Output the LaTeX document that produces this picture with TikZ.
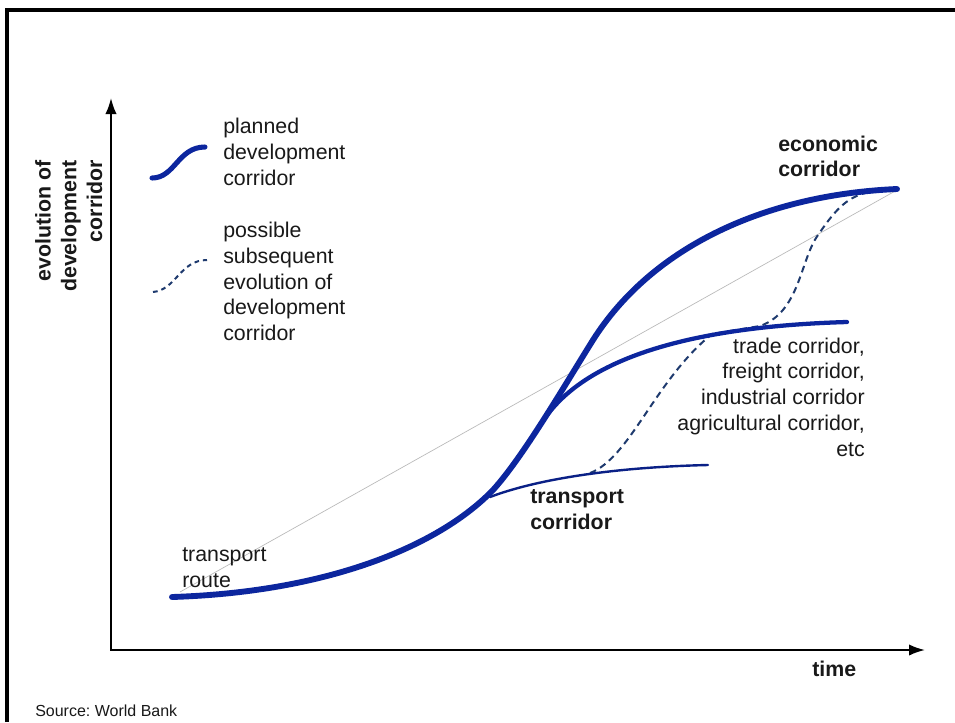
\documentclass[tikz,border=0pt]{standalone}
\usepackage{fontspec}
\setmainfont{Liberation Sans}
\usetikzlibrary{arrows.meta}
\definecolor{mainblue}{RGB}{12,38,158}
\definecolor{dashblue}{RGB}{30,58,110}
\frenchspacing
\begin{document}
\begin{tikzpicture}[x=0.75pt,y=-0.75pt,
  lbl/.style={font=\fontsize{16}{19.3}\selectfont, inner sep=0pt, align=left, text=black!90},
  blbl/.style={lbl, font=\fontsize{16}{19.3}\selectfont\bfseries},
  axisline/.style={line width=1.5pt, {Latex[length=12pt,width=8.5pt]}-{Latex[length=12pt,width=8.5pt]}},
  frameline/.style={line width=2.4pt},
  maincurve/.style={mainblue, line width=4.4pt, line cap=round},
  tradecurve/.style={mainblue, line width=3.2pt, line cap=round},
  transcurve/.style={mainblue!85!black, line width=1.8pt, line cap=round},
  dashcurve/.style={dashblue, line width=1.5pt, dash pattern=on 5pt off 3.5pt},
  legdash/.style={dashblue, line width=1.5pt, dash pattern=on 3.5pt off 3pt},
  guideline/.style={gray!55, line width=0.5pt}]
\useasboundingbox (0,0) rectangle (955,722);
\fill[white] (0,0) rectangle (955,722);
% frame
\coordinate (fbl) at (7,722);
\coordinate (ftl) at (7,10);
\coordinate (ftr) at (955,10);
\draw[frameline] (fbl) -- (ftl) -- (ftr);
% axes
\coordinate (O) at (111,650);
\coordinate (ytop) at (111,98);
\coordinate (xend) at (925,650);
\draw[axisline] (ytop) -- (O) -- (xend);
% guide line
\coordinate (gs) at (180,592);
\coordinate (ge) at (897,190);
\draw[guideline] (gs) -- (ge);
% dashed subsequent evolution
\coordinate (d0) at (590,473);
\coordinate (d1) at (712,334);
\coordinate (d2) at (760,326);
\coordinate (d3) at (818,235);
\coordinate (d4) at (870,192);
\draw[dashcurve] (d0) .. controls (630,458) and (655,380) .. (d1) -- (d2)
   .. controls (800,312) and (800,260) .. (d3) .. controls (832,215) and (845,196) .. (d4);
% transport corridor branch
\coordinate (p0) at (490,497);
\coordinate (p1) at (708,465);
\draw[transcurve] (p0) .. controls (540,478) and (620,467) .. (p1);
% trade branch
\coordinate (t0) at (543,421);
\coordinate (t1) at (847,322);
\draw[tradecurve] (t0) .. controls (570,380) and (640,328) .. (t1);
% main planned curve
\coordinate (m0) at (172,597);
\coordinate (m1) at (493,490);
\coordinate (m2) at (593,340);
\coordinate (m3) at (897,189);
\draw[maincurve] (m0) .. controls (330,592) and (440,545) .. (m1)
   .. controls (523,457) and (563,388) .. (m2)
   .. controls (650,250) and (760,195) .. (m3);
% legend
\coordinate (la) at (152,178);
\coordinate (lb) at (205,147);
\draw[maincurve, line width=3.8pt] (la) .. controls (175,178) and (178,147) .. (lb);
\coordinate (lc) at (153,292);
\coordinate (ld) at (207,260);
\draw[legdash] (lc) .. controls (176,290) and (180,260) .. (ld);
\node[lbl, anchor=north west] (planned) at (223,118) {planned\\development\\corridor};
\node[lbl, anchor=north west] (possible) at (223,222) {possible\\subsequent\\evolution of\\development\\corridor};
% labels
\node[blbl, anchor=north east, align=right, rotate=90] (ylab) at (35,160) {evolution of\\development\\corridor};
\node[blbl, anchor=north west] (econ) at (778,135.5) {economic\\corridor};
\node[lbl, anchor=north east, align=right] (trade) at (865,337.4) {trade corridor,\\freight corridor,\\industrial corridor\\agricultural corridor,\\etc};
\node[blbl, anchor=north west] (tcorr) at (530,489.5) {transport\\corridor};
\node[lbl, anchor=north west] (troute) at (182,547.4) {transport\\route};
\node[blbl, anchor=base west] (time) at (812,676.7) {time};
\node[lbl, font=\fontsize{12}{14}\selectfont, anchor=base west] (src) at (35,716.7) {Source: World Bank};
\end{tikzpicture}
\end{document}
